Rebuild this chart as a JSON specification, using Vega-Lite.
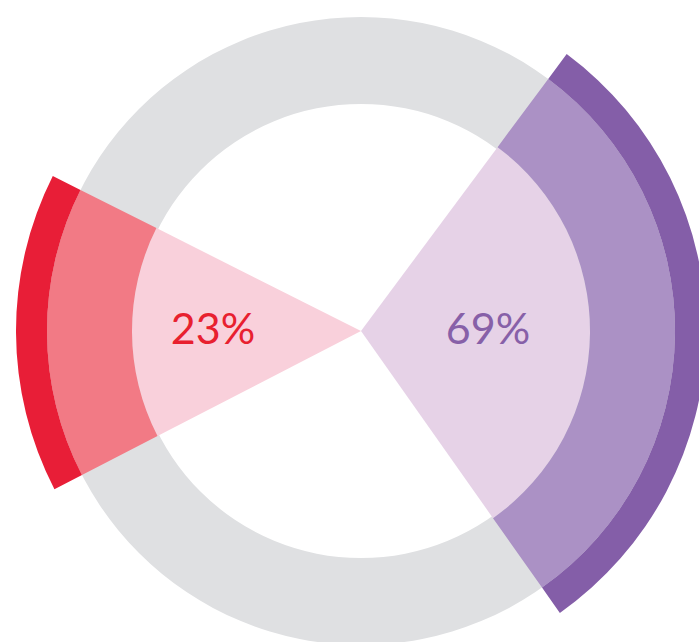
{
  "$schema": "https://vega.github.io/schema/vega-lite/v6.json",
  "autosize": {"type": "fit", "contains": "padding"},
  "width": 699,
  "height": 642,
  "padding": {"left": 23, "top": 20, "right": 0, "bottom": 0},
  "background": "white",
  "config": {"view": {"stroke": null}},
  "datasets": {
    "arcs": [
      {"part": "track", "a0": 0, "a1": 180, "r0": 227, "r1": 314},
      {"part": "track", "a0": 180, "a1": 360, "r0": 227, "r1": 314},
      {"part": "purple inner", "a0": 36.6, "a1": 144.8, "r0": 0, "r1": 229},
      {"part": "purple middle", "a0": 36.6, "a1": 144.8, "r0": 229, "r1": 314},
      {"part": "purple outer", "a0": 36.6, "a1": 144.8, "r0": 314, "r1": 345},
      {"part": "red inner", "a0": 242.7, "a1": 296.7, "r0": 0, "r1": 229},
      {"part": "red middle", "a0": 242.7, "a1": 296.7, "r0": 229, "r1": 314},
      {"part": "red outer", "a0": 242.7, "a1": 296.7, "r0": 314, "r1": 345}
    ],
    "labels": [
      {"series": "red", "label": "23%", "angle": 270, "dist": 148},
      {"series": "purple", "label": "69%", "angle": 90, "dist": 127}
    ]
  },
  "layer": [
    {
      "data": {"name": "arcs"},
      "mark": {"type": "arc", "stroke": null},
      "encoding": {
        "theta": {"field": "a0", "type": "quantitative", "stack": null,
          "scale": {"type": "linear", "domain": [0, 360], "range": [0, 6.283185307179586]}},
        "theta2": {"field": "a1"},
        "radius": {"field": "r0", "type": "quantitative",
          "scale": {"type": "linear", "domain": [0, 350], "range": [0, 350], "zero": true}},
        "radius2": {"field": "r1"},
        "color": {"field": "part", "type": "nominal", "legend": null,
          "scale": {
            "domain": ["track", "purple inner", "purple middle", "purple outer", "red inner", "red middle", "red outer"],
            "range": ["#dfe0e2", "#e6d2e7", "#ab91c5", "#845ea8", "#f9d0db", "#f27a85", "#e81e37"]
          }}
      }
    },
    {
      "data": {"name": "labels"},
      "mark": {"type": "text", "font": "Lato", "fontSize": 43, "fontWeight": "normal", "align": "center", "baseline": "middle"},
      "encoding": {
        "theta": {"field": "angle", "type": "quantitative", "stack": null,
          "scale": {"type": "linear", "domain": [0, 360], "range": [0, 6.283185307179586]}},
        "radius": {"field": "dist", "type": "quantitative",
          "scale": {"type": "linear", "domain": [0, 350], "range": [0, 350], "zero": true}},
        "text": {"field": "label", "type": "nominal"},
        "color": {"field": "series", "type": "nominal", "legend": null,
          "scale": {"domain": ["red", "purple"], "range": ["#e8202f", "#8760a8"]}}
      }
    }
  ],
  "resolve": {"scale": {"color": "independent"}}
}
